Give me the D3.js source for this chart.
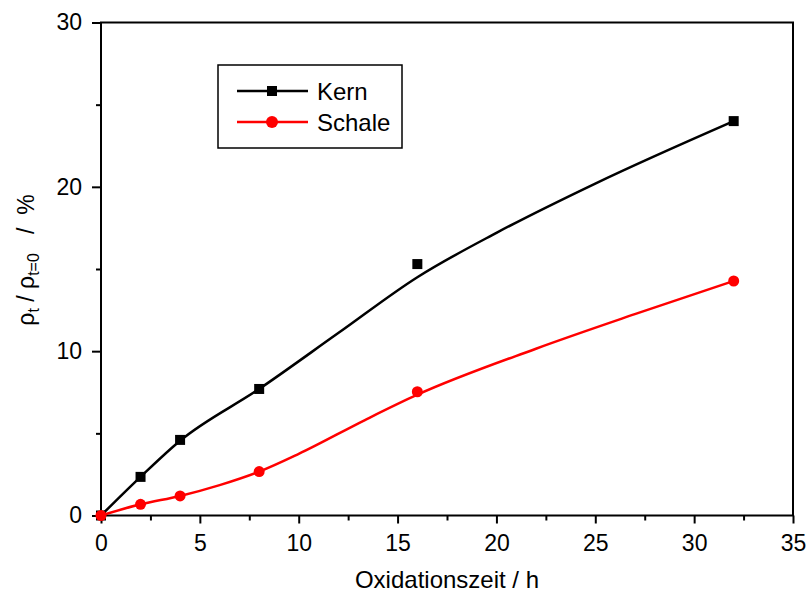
<!DOCTYPE html>
<html><head><meta charset="utf-8">
<script src="https://cdn.jsdelivr.net/npm/d3@7"></script>
<style>body{margin:0;background:#fff;}svg{display:block;font-family:Arial,"Liberation Sans",sans-serif;}</style>
</head><body>
<script>
const timeH = [0, 2, 4, 8, 16, 32];
const kernVals = [0, 2.35, 4.6, 7.7, 15.3, 24.0];
const schaleVals = [0, 0.68, 1.19, 2.67, 7.53, 14.27];
const kernFitX = [0, 2, 4, 8, 12, 16, 20, 25, 32];
const kernFitY = [0, 2.35, 4.55, 7.7, 11.1, 14.5, 17.2, 20.2, 24.0];
const schaleFitX = [0, 2, 4, 6, 8, 10, 13.35, 16, 22, 27, 32];
const schaleFitY = [0, 0.68, 1.19, 1.85, 2.67, 3.75, 5.81, 7.35, 10.15, 12.25, 14.27];
const xTicks = [0, 5, 10, 15, 20, 25, 30, 35];
const yTicks = [0, 10, 20, 30];
const seriesNames = ["Kern", "Schale"];

const W = 806, H = 592;
const m = {l: 101, r: 13, t: 22.5, b: 76.5};
const svg = d3.select("body").append("svg").attr("width", W).attr("height", H);
const x = d3.scaleLinear().domain([0, 35]).range([m.l, W - m.r]);
const y = d3.scaleLinear().domain([0, 30]).range([H - m.b, m.t]);

const xAxis = d3.axisBottom(x).tickValues(xTicks).tickSize(8).tickPadding(11).tickFormat(d3.format("d"));
const xMinor = d3.axisBottom(x).tickValues(d3.range(2.5, 35, 5)).tickSize(5).tickFormat("");
const yAxis = d3.axisLeft(y).tickValues(yTicks).tickSize(9).tickPadding(10).tickFormat(d3.format("d"));
const yMinor = d3.axisLeft(y).tickValues([5, 15, 25]).tickSize(5).tickFormat("");

function style(g){
  g.select(".domain").remove();
  g.selectAll("line").attr("stroke", "#000").attr("stroke-width", 2);
  g.selectAll("text").attr("font-size", 23).attr("fill", "#000");
}
svg.append("g").attr("transform", `translate(0,${y(0)})`).call(xAxis).call(style);
svg.append("g").attr("transform", `translate(0,${y(0)})`).call(xMinor).call(style);
svg.append("g").attr("transform", `translate(${x(0)},0)`).call(yAxis).call(style);
svg.append("g").attr("transform", `translate(${x(0)},0)`).call(yMinor).call(style);

svg.append("rect").attr("x", x(0)).attr("y", y(30)).attr("width", x(35) - x(0)).attr("height", y(0) - y(30))
  .attr("fill", "none").attr("stroke", "#000").attr("stroke-width", 2);

const line = d3.line().x(d => x(d[0])).y(d => y(d[1])).curve(d3.curveMonotoneX);
svg.append("path").datum(d3.zip(kernFitX, kernFitY)).attr("d", line)
  .attr("fill", "none").attr("stroke", "#000").attr("stroke-width", 2.5);
svg.append("path").datum(d3.zip(schaleFitX, schaleFitY)).attr("d", line)
  .attr("fill", "none").attr("stroke", "#ff0000").attr("stroke-width", 2.5);

svg.append("g").selectAll("rect").data(d3.zip(timeH, kernVals)).join("rect")
  .attr("x", d => x(d[0]) - 5).attr("y", d => y(d[1]) - 5).attr("width", 10).attr("height", 10).attr("fill", "#000");
svg.append("g").selectAll("circle").data(d3.zip(timeH, schaleVals)).join("circle")
  .attr("cx", d => x(d[0])).attr("cy", d => y(d[1])).attr("r", 5.5).attr("fill", "#ff0000");

const lg = svg.append("g");
lg.append("rect").attr("x", 218).attr("y", 65).attr("width", 184).attr("height", 83)
  .attr("fill", "#fff").attr("stroke", "#000").attr("stroke-width", 1.5);
const cols = ["#000", "#ff0000"];
seriesNames.forEach((n, i) => {
  const cy = 91 + i * 31;
  lg.append("line").attr("x1", 237).attr("x2", 308).attr("y1", cy).attr("y2", cy).attr("stroke", cols[i]).attr("stroke-width", 2.5);
  if (i === 0) lg.append("rect").attr("x", 267).attr("y", cy - 5).attr("width", 10).attr("height", 10).attr("fill", "#000");
  else lg.append("circle").attr("cx", 272).attr("cy", cy).attr("r", 6).attr("fill", "#ff0000");
  lg.append("text").attr("x", 317).attr("y", cy).attr("dy", "0.36em").attr("font-size", 24).text(n);
});

svg.append("text").attr("x", (x(0) + x(35)) / 2).attr("y", 588).attr("text-anchor", "middle").attr("font-size", 24).text("Oxidationszeit / h");
const yt = svg.append("text").attr("transform", "translate(34,260) rotate(-90)").attr("text-anchor", "middle").attr("font-size", 23);
yt.append("tspan").text("ρ");
yt.append("tspan").attr("font-size", 16).attr("dy", 5).text("t");
yt.append("tspan").attr("dy", -5).text(" / ρ");
yt.append("tspan").attr("font-size", 16).attr("dy", 5).text("t=0");
yt.append("tspan").attr("dy", -5).attr("xml:space", "preserve").text("   /  %");
</script>
</body></html>
